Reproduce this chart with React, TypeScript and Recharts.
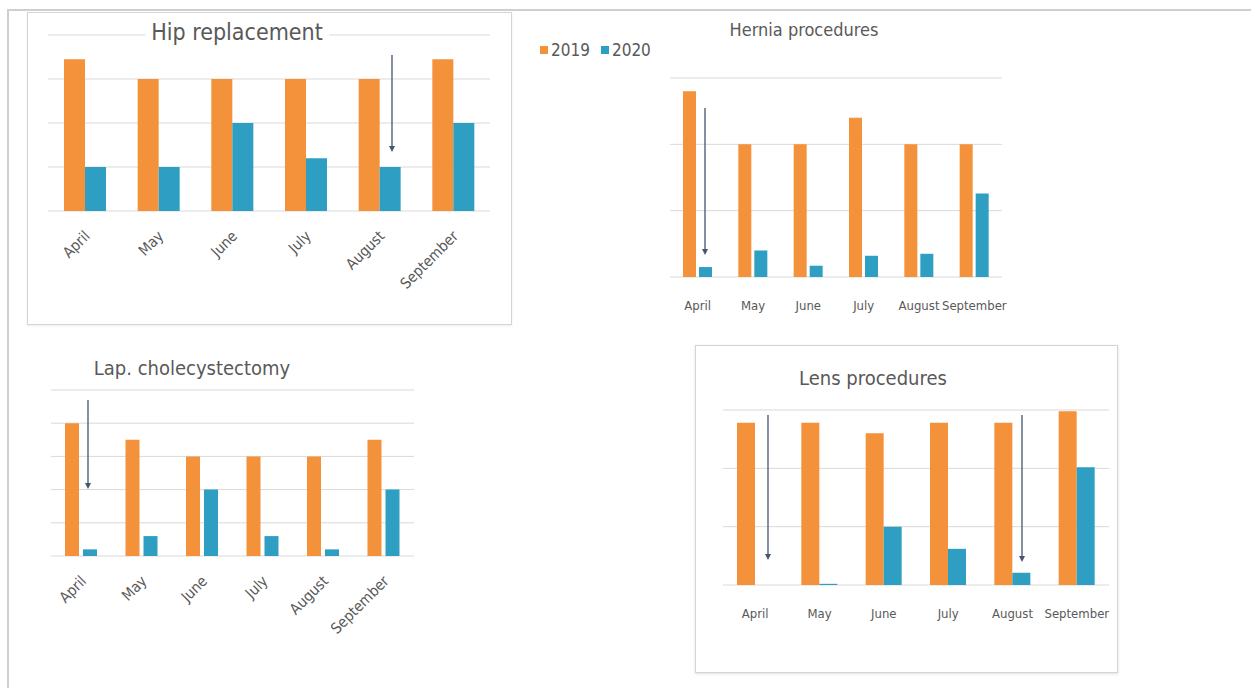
import React from 'react';
import { BarChart, Bar, XAxis, YAxis, CartesianGrid } from 'recharts';

const months = ['April', 'May', 'June', 'July', 'August', 'September'];

const hip2019 = [3.45, 3, 3, 3, 3, 3.45];
const hip2020 = [1, 1, 2, 1.2, 1, 2];

const hernia2019 = [2.8, 2, 2, 2.4, 2, 2];
const hernia2020 = [0.15, 0.4, 0.17, 0.32, 0.35, 1.26];

const lap2019 = [4, 3.5, 3, 3, 3, 3.5];
const lap2020 = [0.2, 0.6, 2, 0.6, 0.2, 2];

const lens2019 = [2.78, 2.78, 2.6, 2.78, 2.78, 2.98];
const lens2020 = [0, 0.02, 1, 0.62, 0.21, 2.02];

const ORANGE = '#F4913B';
const TEAL = '#2E9FC2';
const GRID = '#d9d9d9';
const TEXT = '#595959';
const ARROW = '#46546e';
const FONT = "'Liberation Sans Narrow', 'DejaVu Sans Condensed', 'Open Sans', sans-serif";

const toRows = (a: number[], b: number[]) =>
  months.map((m, i) => ({ month: m, y2019: a[i], y2020: b[i] }));

const RotatedTick = (props: any) => {
  const { x, y, payload } = props;
  const ax = x + 6;
  const ay = y + 26;
  return (
    <text x={ax} y={ay} transform={`rotate(-45 ${ax} ${ay})`} textAnchor="end"
      fill={TEXT} fontSize={15} fontFamily={FONT}>
      {payload.value}
    </text>
  );
};

const FlatTick = (props: any) => {
  const { x, y, payload } = props;
  return (
    <text x={x} y={y + 33} textAnchor="middle" fill={TEXT} fontSize={13} fontFamily={FONT}>
      {payload.value}
    </text>
  );
};

interface PanelProps {
  data: { month: string; y2019: number; y2020: number }[];
  width: number;
  height: number;
  margin: { top: number; right: number; bottom: number; left: number };
  max: number;
  ticks: number[];
  rotated: boolean;
  axisHeight: number;
  barSize: number;
  barGap: number;
}

const Panel: React.FC<PanelProps> = ({ data, width, height, margin, max, ticks, rotated, axisHeight, barSize, barGap }) => (
  <BarChart width={width} height={height} data={data} margin={margin} barSize={barSize} barGap={barGap}>
    <CartesianGrid vertical={false} stroke={GRID} />
    <XAxis dataKey="month" axisLine={false} tickLine={false} tickSize={0} tickMargin={0}
      height={axisHeight} interval={0} tick={rotated ? <RotatedTick /> : <FlatTick />} />
    <YAxis hide domain={[0, max]} ticks={ticks} />
    <Bar dataKey="y2019" fill={ORANGE} isAnimationActive={false} />
    <Bar dataKey="y2020" fill={TEAL} isAnimationActive={false} />
  </BarChart>
);

const Title: React.FC<{ text: string; cx: number; cy: number; size: number }> = ({ text, cx, cy, size }) => (
  <div style={{
    position: 'absolute', left: cx, top: cy, transform: 'translate(-50%, -50%)',
    background: '#fff', padding: '0 6px', color: TEXT, fontSize: size,
    fontFamily: FONT, whiteSpace: 'nowrap', lineHeight: 1.1,
  }}>{text}</div>
);

const Arrow: React.FC<{ x: number; y1: number; y2: number }> = ({ x, y1, y2 }) => (
  <g>
    <line x1={x} y1={y1} x2={x} y2={y2 - 3} stroke={ARROW} strokeWidth={1.3} />
    <path d={`M${x - 3},${y2 - 6} L${x + 3},${y2 - 6} L${x},${y2} Z`} fill={ARROW} />
  </g>
);

export default function App() {
  return (
    <div style={{ position: 'fixed', left: 0, top: 0, width: 1251, height: 688, background: '#fff', overflow: 'hidden' }}>
      {/* outer frame */}
      <div style={{ position: 'absolute', left: 7, top: 9, width: 1260, height: 700, borderTop: '2px solid #cfcfcf', borderLeft: '2px solid #cfcfcf' }} />

      {/* Hip replacement */}
      <div style={{ position: 'absolute', left: 27, top: 12, width: 485, height: 313, border: '1px solid #d4d4d4', boxSizing: 'border-box', boxShadow: '0 1px 2px rgba(0,0,0,0.08)' }} />
      <div style={{ position: 'absolute', left: 27, top: 12 }}>
        <Panel data={toRows(hip2019, hip2020)} width={485} height={313}
          margin={{ top: 23, right: 22, bottom: 24, left: 21 }} max={4} ticks={[0, 1, 2, 3, 4]}
          rotated axisHeight={90} barSize={21} barGap={0} />
      </div>
      <Title text="Hip replacement" cx={237} cy={33} size={23} />

      {/* Hernia procedures */}
      <div style={{ position: 'absolute', left: 640, top: 60 }}>
        <Panel data={toRows(hernia2019, hernia2020)} width={390} height={260}
          margin={{ top: 18, right: 28, bottom: 13, left: 30 }} max={3} ticks={[0, 1, 2, 3]}
          rotated={false} axisHeight={30} barSize={13} barGap={3} />
      </div>
      <Title text="Hernia procedures" cx={804} cy={30} size={18} />

      {/* Lap. cholecystectomy */}
      <div style={{ position: 'absolute', left: 20, top: 380 }}>
        <Panel data={toRows(lap2019, lap2020)} width={420} height={280}
          margin={{ top: 10, right: 26, bottom: 14, left: 31 }} max={5} ticks={[0, 1, 2, 3, 4, 5]}
          rotated axisHeight={90} barSize={14} barGap={4} />
      </div>
      <Title text="Lap. cholecystectomy" cx={192} cy={368} size={20} />

      {/* Lens procedures */}
      <div style={{ position: 'absolute', left: 695, top: 345, width: 423, height: 328, border: '1px solid #d4d4d4', boxSizing: 'border-box', boxShadow: '0 1px 3px rgba(0,0,0,0.12)' }} />
      <div style={{ position: 'absolute', left: 695, top: 345 }}>
        <Panel data={toRows(lens2019, lens2020)} width={423} height={328}
          margin={{ top: 65, right: 9, bottom: 58, left: 28 }} max={3} ticks={[0, 1, 2, 3]}
          rotated={false} axisHeight={30} barSize={18} barGap={0} />
      </div>
      <Title text="Lens procedures" cx={873} cy={378} size={20} />

      {/* legend */}
      <div style={{ position: 'absolute', left: 540, top: 40, display: 'flex', alignItems: 'center', fontFamily: FONT, fontSize: 17, color: TEXT }}>
        <span style={{ width: 8, height: 8, background: ORANGE, display: 'inline-block', marginRight: 3 }} />
        <span>2019</span>
        <span style={{ width: 8, height: 8, background: TEAL, display: 'inline-block', marginLeft: 11, marginRight: 3 }} />
        <span>2020</span>
      </div>

      {/* annotation arrows */}
      <svg width={1251} height={688} style={{ position: 'absolute', left: 0, top: 0, pointerEvents: 'none' }}>
        <Arrow x={392} y1={55} y2={152} />
        <Arrow x={705} y1={108} y2={255} />
        <Arrow x={88} y1={400} y2={489} />
        <Arrow x={768} y1={415} y2={560} />
        <Arrow x={1022} y1={415} y2={562} />
      </svg>
    </div>
  );
}
